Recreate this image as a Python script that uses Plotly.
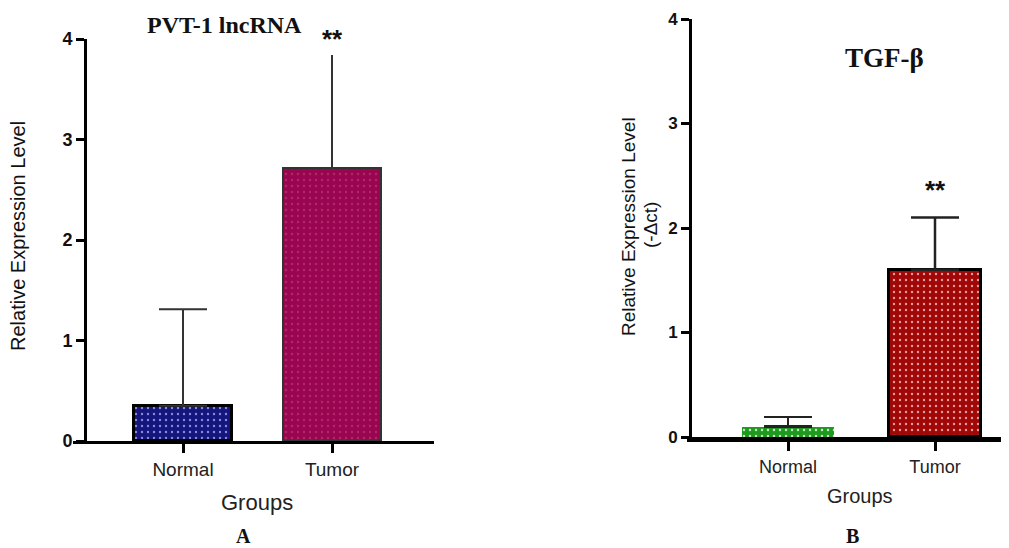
import plotly.graph_objects as go

W, H = 1009, 548
OFF = 8  # page body margin offset of the figure div

groups = ["Normal", "Tumor"]
pvt1_mean = [0.35, 2.72]
pvt1_err = [0.96, 1.12]
tgf_mean = [0.10, 1.60]
tgf_err = [0.09, 0.50]
y_ticks = [0, 1, 2, 3, 4]
sig_labels = ["", "**"]

def fx(px):
    return (px - OFF) / W

def fy(px):
    return 1 - (px - OFF) / H

fig = go.Figure()

# Panel A bars
a_colors = ["#15157e", "#990550"]
a_fg = ["#8a8ad8", "#b02a6a"]
a_line = ["#000000", "#333333"]
a_line_w = [3, 2]
a_cap = [24, 0]
for i, g in enumerate(groups):
    fig.add_trace(go.Bar(
        x=[i], y=[pvt1_mean[i]], width=0.66, xaxis="x", yaxis="y",
        marker=dict(color=a_colors[i],
                    line=dict(color=a_line[i], width=a_line_w[i]),
                    pattern=dict(shape=".", fgcolor=a_fg[i], bgcolor=a_colors[i],
                                 size=6, solidity=0.12, fillmode="replace")),
        error_y=dict(type="data", symmetric=False, array=[pvt1_err[i]], arrayminus=[0],
                     color="#333333", thickness=2, width=a_cap[i]),
        showlegend=False, hoverinfo="skip"))

# Panel B bars
b_colors = ["#1f9a1f", "#a00808"]
b_fg = ["#c8e8c8", "#e89a9a"]
b_line = ["#1f9a1f", "#000000"]
b_line_w = [0, 3]
for i, g in enumerate(groups):
    fig.add_trace(go.Bar(
        x=[i], y=[tgf_mean[i]], width=0.62, xaxis="x2", yaxis="y2",
        marker=dict(color=b_colors[i],
                    line=dict(color=b_line[i], width=b_line_w[i]),
                    pattern=dict(shape=".", fgcolor=b_fg[i], bgcolor=b_colors[i],
                                 size=6, solidity=0.12, fillmode="replace")),
        error_y=dict(type="data", symmetric=False, array=[tgf_err[i]], arrayminus=[0],
                     color="#222222", thickness=2.5, width=24),
        showlegend=False, hoverinfo="skip"))

tickfont = dict(family="Arial, Liberation Sans", size=18, color="#111111")
catfont = dict(family="Arial, Liberation Sans", size=19, color="#222222")
ytext = ["<b>%d</b>" % v for v in y_ticks]

common = dict(showgrid=False, zeroline=False, fixedrange=True, automargin=False,
              showline=True, linecolor="#000000", ticks="outside", tickcolor="#000000")

fig.update_layout(
    width=W, height=H,
    margin=dict(l=0, r=0, t=0, b=0, pad=0, autoexpand=False),
    paper_bgcolor="white", plot_bgcolor="white",
    bargap=0,
    xaxis=dict(domain=[fx(73), fx(434)], range=[-110/149, (434-183)/149],
               anchor="y", tickvals=[0, 1], ticktext=groups, tickfont=catfont,
               linewidth=2.5, ticklen=9, tickwidth=3, **common),
    yaxis=dict(domain=[fy(441), fy(39)], range=[0, 4], anchor="free", position=fx(85),
               tickvals=y_ticks, ticktext=ytext, tickfont=tickfont,
               linewidth=3, ticklen=8, tickwidth=3, **common),
    xaxis2=dict(domain=[fx(687), fx(1009)], range=[-101/147, (1009-788)/147],
                anchor="y2", tickvals=[0, 1], ticktext=groups, tickfont=dict(catfont, size=18),
                linewidth=5, ticklen=9, tickwidth=3, **common),
    yaxis2=dict(domain=[fy(437), fy(19)], range=[0, 4], anchor="free", position=fx(690),
                tickvals=y_ticks, ticktext=ytext, tickfont=dict(tickfont, size=17),
                linewidth=3, ticklen=8, tickwidth=3, **common),
)

ann = []
serif = "Times New Roman, Liberation Serif"
sans = "Arial, Liberation Sans"
ann.append(dict(text="<b>PVT-1 lncRNA</b>", x=fx(224), y=fy(25), font=dict(family=serif, size=24, color="#111111")))
ann.append(dict(text="<b>TGF-β</b>", x=fx(884), y=fy(58), font=dict(family=serif, size=27, color="#111111")))
ann.append(dict(text="Relative Expression Level", x=fx(18), y=fy(236), textangle=-90,
                font=dict(family=sans, size=20, color="#111111")))
ann.append(dict(text="Relative Expression Level", x=fx(628), y=fy(227), textangle=-90,
                font=dict(family=sans, size=19, color="#111111")))
ann.append(dict(text="(-Δct)", x=fx(650), y=fy(225), textangle=-90,
                font=dict(family=sans, size=19, color="#111111")))
ann.append(dict(text="Groups", x=fx(257), y=fy(502), font=dict(family=sans, size=22, color="#222222")))
ann.append(dict(text="Groups", x=fx(860), y=fy(496), font=dict(family=sans, size=20, color="#222222")))
ann.append(dict(text="<b>A</b>", x=fx(243), y=fy(536), font=dict(family=serif, size=20, color="#111111")))
ann.append(dict(text="<b>B</b>", x=fx(852), y=fy(536), font=dict(family=serif, size=20, color="#111111")))
# significance markers placed in data coordinates above the error bars
ann.append(dict(text="<b>" + sig_labels[1] + "</b>", x=1, y=pvt1_mean[1] + pvt1_err[1],
                xref="x", yref="y", yshift=16, font=dict(family=sans, size=26, color="#111111")))
ann.append(dict(text="<b>" + sig_labels[1] + "</b>", x=1, y=tgf_mean[1] + tgf_err[1],
                xref="x2", yref="y2", yshift=28, font=dict(family=sans, size=26, color="#111111")))

for a in ann:
    a.setdefault("xref", "paper")
    a.setdefault("yref", "paper")
    a.update(showarrow=False, xanchor="center", yanchor="middle")
    fig.add_annotation(**a)

fig.write_html("out.html")
